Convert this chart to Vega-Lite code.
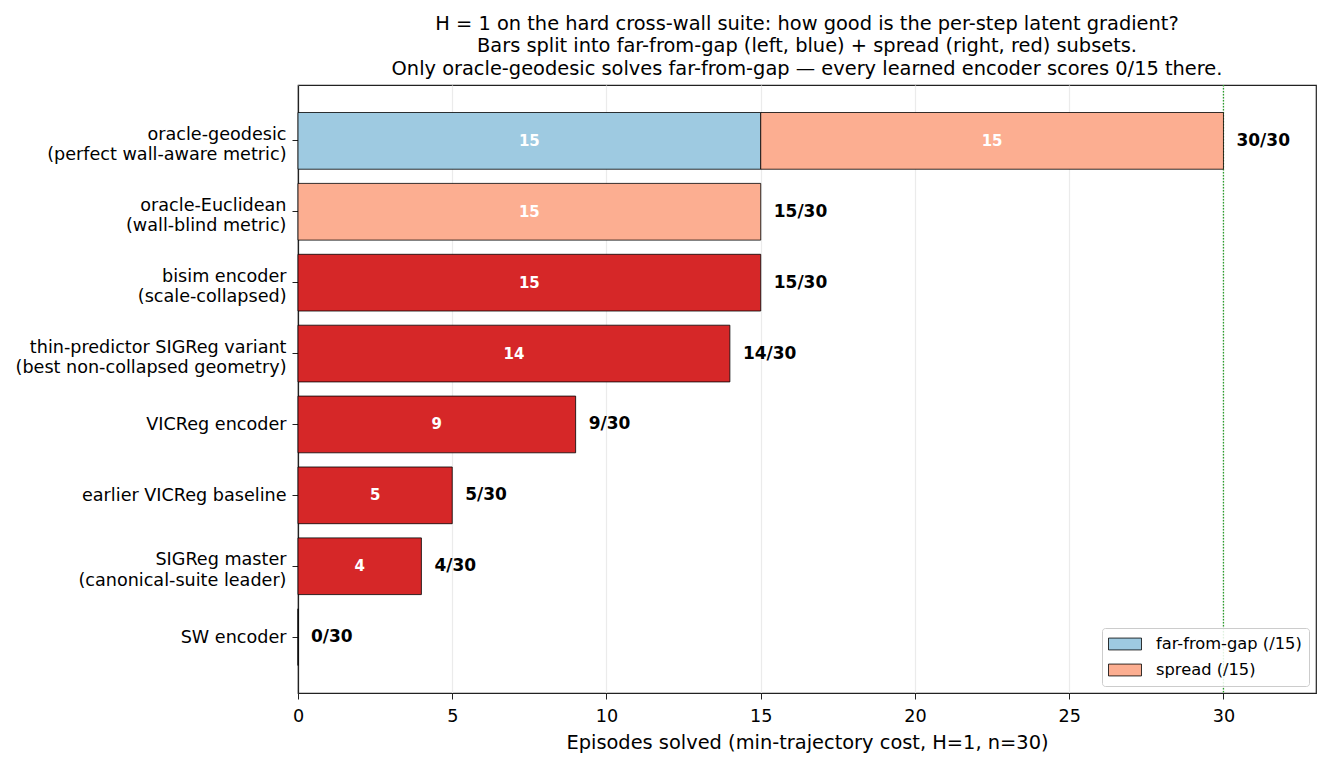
{
  "$schema": "https://vega.github.io/schema/vega-lite/v6.json",
  "width": 1018,
  "height": 608,
  "autosize": {"type": "none"},
  "padding": {"left": 298, "top": 85, "right": 15, "bottom": 74},
  "background": "white",
  "title": {
    "text": [
      "H = 1 on the hard cross-wall suite: how good is the per-step latent gradient?",
      "Bars split into far-from-gap (left, blue) + spread (right, red) subsets.",
      "Only oracle-geodesic solves far-from-gap — every learned encoder scores 0/15 there."
    ],
    "font": "DejaVu Sans",
    "fontSize": 19.4,
    "fontWeight": "normal",
    "color": "black",
    "anchor": "middle",
    "frame": "group",
    "lineHeight": 22.5,
    "offset": 5
  },
  "data": {
    "values": [
      {"method": "oracle-geodesic\n(perfect wall-aware metric)", "part": "far-from-gap (/15)", "n": 15},
      {"method": "oracle-geodesic\n(perfect wall-aware metric)", "part": "spread (/15)", "n": 15},
      {"method": "oracle-Euclidean\n(wall-blind metric)", "part": "spread (/15)", "n": 15},
      {"method": "bisim encoder\n(scale-collapsed)", "part": "spread (learned)", "n": 15},
      {"method": "thin-predictor SIGReg variant\n(best non-collapsed geometry)", "part": "spread (learned)", "n": 14},
      {"method": "VICReg encoder", "part": "spread (learned)", "n": 9},
      {"method": "earlier VICReg baseline", "part": "spread (learned)", "n": 5},
      {"method": "SIGReg master\n(canonical-suite leader)", "part": "spread (learned)", "n": 4},
      {"method": "SW encoder", "part": "spread (learned)", "n": 0}
    ]
  },
  "encoding": {
    "y": {
      "field": "method",
      "type": "nominal",
      "sort": [
        "oracle-geodesic\n(perfect wall-aware metric)",
        "oracle-Euclidean\n(wall-blind metric)",
        "bisim encoder\n(scale-collapsed)",
        "thin-predictor SIGReg variant\n(best non-collapsed geometry)",
        "VICReg encoder",
        "earlier VICReg baseline",
        "SIGReg master\n(canonical-suite leader)",
        "SW encoder"
      ],
      "scale": {"paddingInner": 0.2, "paddingOuter": 0.388},
      "axis": {
        "title": null,
        "labelExpr": "split(datum.label, '\\n')",
        "labelLineHeight": 20.5,
        "labelLimit": 0,
        "labelOffset": {"condition": {"test": "indexof(datum.label, '\\n') >= 0", "value": -6}, "value": 1},
        "labelFont": "DejaVu Sans",
        "labelFontSize": 17.6,
        "labelColor": "black",
        "labelPadding": 6,
        "tickSize": 6,
        "tickColor": "#222222",
        "domainColor": "#222222",
        "domainWidth": 1.2,
        "grid": false
      }
    }
  },
  "layer": [
    {
      "mark": {"type": "rule", "color": "#2ca02c", "strokeDash": [1.5, 1.5], "strokeWidth": 1.3, "opacity": 1},
      "data": {"values": [{"target": 30}]},
      "encoding": {
        "x": {"field": "target", "type": "quantitative"},
        "y": null
      }
    },
    {
      "transform": [
        {"stack": "n", "groupby": ["method"], "sort": [{"field": "part", "order": "ascending"}], "as": ["x0", "x1"]}
      ],
      "mark": {"type": "bar", "stroke": "black", "strokeWidth": 0.8, "opacity": 1},
      "encoding": {
        "x": {
          "field": "x0",
          "type": "quantitative",
          "scale": {"domain": [0, 33], "nice": false, "zero": true},
          "axis": {
            "title": "Episodes solved (min-trajectory cost, H=1, n=30)",
            "values": [0, 5, 10, 15, 20, 25, 30],
            "labelFont": "DejaVu Sans",
            "labelFontSize": 17.6,
            "labelColor": "black",
            "labelPadding": 8,
            "labelFlush": false,
            "titleFont": "DejaVu Sans",
            "titleFontSize": 19.4,
            "titleFontWeight": "normal",
            "titleColor": "black",
            "titlePadding": 9,
            "tickSize": 6,
            "tickColor": "#222222",
            "domainColor": "#222222",
            "domainWidth": 1.2,
            "grid": true,
            "gridColor": "#ebebeb",
            "gridWidth": 1.2
          }
        },
        "x2": {"field": "x1"},
        "color": {
          "field": "part",
          "type": "nominal",
          "scale": {
            "domain": ["far-from-gap (/15)", "spread (/15)", "spread (learned)"],
            "range": ["#9ecae1", "#fcae91", "#d62728"]
          },
          "legend": {
            "values": ["far-from-gap (/15)", "spread (/15)"],
            "title": null,
            "orient": "bottom-right",
            "offset": 7,
            "padding": 7,
            "rowPadding": 8,
            "fillColor": "rgba(255,255,255,0.85)",
            "strokeColor": "#cccccc",
            "cornerRadius": 3,
            "symbolType": "M-2,-0.72H2V0.72H-2Z",
            "symbolSize": 272,
            "symbolOffset": 7,
            "symbolStrokeColor": "black",
            "symbolStrokeWidth": 0.8,
            "symbolOpacity": 1,
            "labelFont": "DejaVu Sans",
            "labelFontSize": 16.3,
            "labelColor": "black",
            "labelOffset": 22
          }
        }
      }
    },
    {
      "transform": [
        {"stack": "n", "groupby": ["method"], "sort": [{"field": "part", "order": "ascending"}], "as": ["x0", "x1"]},
        {"filter": "datum.n > 0"},
        {"calculate": "(datum.x0 + datum.x1) / 2", "as": "mid"}
      ],
      "mark": {"type": "text", "color": "white", "font": "DejaVu Sans", "fontWeight": "bold", "fontSize": 15, "align": "center", "baseline": "middle"},
      "encoding": {
        "x": {"field": "mid", "type": "quantitative"},
        "text": {"field": "n", "type": "quantitative"}
      }
    },
    {
      "transform": [
        {"aggregate": [{"op": "sum", "field": "n", "as": "total"}], "groupby": ["method"]},
        {"calculate": "datum.total + '/30'", "as": "label"}
      ],
      "mark": {"type": "text", "color": "black", "font": "DejaVu Sans", "fontWeight": "bold", "fontSize": 17, "align": "left", "baseline": "middle", "dx": 13},
      "encoding": {
        "x": {"field": "total", "type": "quantitative"},
        "text": {"field": "label", "type": "nominal"}
      }
    }
  ],
  "config": {
    "view": {"stroke": "#222222", "strokeWidth": 1.2},
    "font": "DejaVu Sans"
  }
}
